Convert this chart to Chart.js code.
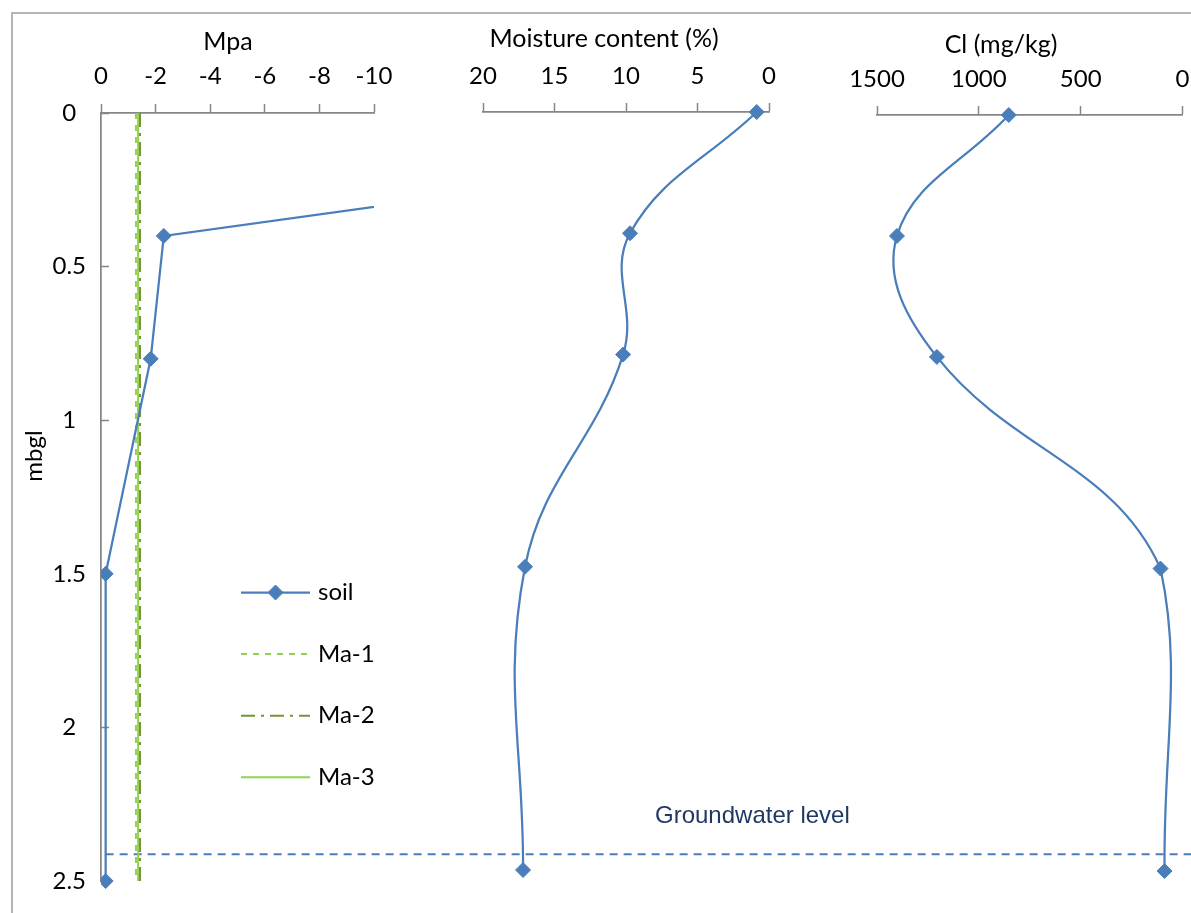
<!DOCTYPE html>
<html>
<head>
<meta charset="utf-8">
<title>Soil profile</title>
<script src="https://cdn.jsdelivr.net/npm/chart.js@4.4.1/dist/chart.umd.min.js"></script>
<style>
  html, body { margin: 0; padding: 0; background: #ffffff; }
  #wrap { position: relative; width: 1191px; height: 913px; overflow: hidden; background: #ffffff; }
  #frame { position: absolute; left: 11px; top: 12px; right: -20px; bottom: -20px;
           border-left: 2px solid #b4b4b4; border-top: 2px solid #b4b4b4; }
  canvas { position: absolute; left: 0; top: 0; }
</style>
</head>
<body>
<div id="wrap">
  <div id="frame"></div>
  <canvas id="cMpa" width="1191" height="913"></canvas>
  <canvas id="cMoist" width="1191" height="913"></canvas>
  <canvas id="cCl" width="1191" height="913"></canvas>
</div>
<script>
// ---- data ----
const depths = [0, 0.4, 0.8, 1.5, 2.5];            // mbgl
const soilMpa = [-35, -2.3, -1.82, -0.17, -0.17];   // suction, MPa
const moisture = [0.86, 9.72, 10.2, 17.06, 17.2];   // %
const chloride = [853, 1402, 1206, 108, 88];        // mg/kg

const maDepths = [0, 2.5];
const ma1 = [-1.28, -1.28];
const ma2 = [-1.43, -1.43];
const ma3 = [-1.36, -1.36];

const groundwaterDepth = [2.413, 2.413];
const groundwaterMpa = [-0.17, -60];

const depthTicks = [0, 0.5, 1, 1.5, 2, 2.5];
const mpaTicks = [0, -2, -4, -6, -8, -10];
const moistureTicks = [20, 15, 10, 5, 0];
const clTicks = [1500, 1000, 500, 0];

// ---- styles ----
const BLUE = '#4a7ebb';
const AXIS = '#868686';
const LIGHT_GREEN = '#92d050';
const OLIVE = '#77933c';
const FONT = 'Lato';

const pts = (xs, ys) => xs.map((v, i) => ({ x: v, y: ys[i] }));
const setTicks = arr => scale => { scale.ticks = arr.map(v => ({ value: v })); };
const noPad = s => { s.paddingTop = 0; s.paddingBottom = 0; s.paddingLeft = 0; s.paddingRight = 0; };

function topAxis(min, max, ticks, height, pad) {
  return {
    type: 'linear', position: 'top', min: min, max: max, reverse: true,
    afterBuildTicks: setTicks(ticks),
    afterFit: s => { s.height = height; noPad(s); },
    border: { display: true, color: AXIS, width: 1.75 },
    grid: { drawOnChartArea: false, drawTicks: true, tickLength: 9, tickColor: AXIS, tickWidth: 1.5 },
    ticks: { color: '#000', font: { family: FONT, size: 24 }, padding: pad,
             maxRotation: 0, autoSkip: false, callback: v => String(v) }
  };
}
function hiddenDepth() {
  return { type: 'linear', position: 'left', min: 0, max: 2.5, reverse: true, display: false,
           afterFit: s => { s.width = 0; noPad(s); } };
}

function textPlugin(items) {
  return {
    id: 'panelText',
    afterDraw(chart) {
      const ctx = chart.ctx;
      items.forEach(t => {
        ctx.save();
        ctx.font = t.font;
        ctx.fillStyle = t.color || '#000';
        ctx.textAlign = t.align || 'center';
        ctx.textBaseline = 'alphabetic';
        ctx.translate(t.x, t.y);
        if (t.rotate) ctx.rotate(t.rotate);
        ctx.fillText(t.text, 0, 0);
        ctx.restore();
      });
    }
  };
}

const legendPlugin = {
  id: 'seriesKey',
  afterDraw(chart) {
    const ctx = chart.ctx;
    for (let i = 0; i < 4; i++) {
      const ds = chart.data.datasets[i];
      const y = 592.5 + i * 61.6;
      ctx.save();
      ctx.strokeStyle = ds.borderColor;
      ctx.lineWidth = ds.borderWidth;
      ctx.setLineDash(ds.borderDash || []);
      ctx.beginPath();
      ctx.moveTo(241, y);
      ctx.lineTo(310, y);
      ctx.stroke();
      ctx.setLineDash([]);
      if (ds.pointRadius) {
        ctx.fillStyle = ds.pointBackgroundColor;
        ctx.strokeStyle = ds.pointBorderColor;
        ctx.lineWidth = 1;
        Chart.helpers.drawPoint(ctx, { pointStyle: 'rectRot', radius: ds.pointRadius, borderWidth: 1, rotation: 0 }, 275.5, y);
      }
      ctx.fillStyle = '#000';
      ctx.font = '24px ' + FONT;
      ctx.textAlign = 'left';
      ctx.textBaseline = 'middle';
      ctx.fillText(ds.label, 318, y);
      ctx.restore();
    }
  }
};

const base = {
  responsive: false, animation: false, events: [],
  plugins: { legend: { display: false }, tooltip: { enabled: false } }
};

const soilStyle = {
  showLine: true, borderColor: BLUE, borderWidth: 2.25, tension: 0,
  pointStyle: 'rectRot', pointRadius: 7.5, pointBackgroundColor: BLUE,
  pointBorderColor: BLUE, pointBorderWidth: 1
};

// ---- suction panel with depth axis ----
new Chart(document.getElementById('cMpa'), {
  type: 'scatter',
  data: {
    datasets: [
      Object.assign({ label: 'soil', data: pts(soilMpa, depths), clip: { left: 0, top: 0, right: 0, bottom: 10 } }, soilStyle),
      { label: 'Ma-1', data: pts(ma1, maDepths), showLine: true, borderColor: LIGHT_GREEN, borderWidth: 2, borderDash: [6, 6], pointRadius: 0 },
      { label: 'Ma-2', data: pts(ma2, maDepths), showLine: true, borderColor: OLIVE, borderWidth: 2, borderDash: [14, 6, 3, 6], pointRadius: 0 },
      { label: 'Ma-3', data: pts(ma3, maDepths), showLine: true, borderColor: LIGHT_GREEN, borderWidth: 2, pointRadius: 0 },
      { label: 'Groundwater level', data: pts(groundwaterMpa, groundwaterDepth), showLine: true, borderColor: BLUE,
        borderWidth: 2, borderDash: [8, 6], pointRadius: 0, clip: false }
    ]
  },
  options: Object.assign({}, base, {
    layout: { padding: { left: 0, top: 0, right: 1191 - 374, bottom: 913 - 881 } },
    scales: {
      x: topAxis(-10, 0, mpaTicks, 113, 13),
      y: {
        type: 'linear', position: 'left', min: 0, max: 2.5, reverse: true,
        afterBuildTicks: setTicks(depthTicks),
        afterFit: s => { s.width = 101; noPad(s); },
        border: { display: true, color: AXIS, width: 1.75 },
        grid: { drawOnChartArea: false, drawTicks: true, tickLength: -8, tickColor: AXIS, tickWidth: 1.5 },
        ticks: { color: '#000', font: { family: FONT, size: 24 }, padding: 23, crossAlign: 'center',
                 autoSkip: false, callback: v => String(v) }
      }
    }
  }),
  plugins: [legendPlugin, textPlugin([
    { text: 'Mpa', x: 228, y: 50, font: '25px ' + FONT },
    { text: 'mbgl', x: 42, y: 456, font: '24px ' + FONT, rotate: -Math.PI / 2 },
    { text: 'Groundwater level', x: 655, y: 823, font: '24px "Liberation Sans"', color: '#1f3864', align: 'left' }
  ])]
});

// ---- moisture panel ----
new Chart(document.getElementById('cMoist'), {
  type: 'scatter',
  data: { datasets: [Object.assign({ label: 'Moisture content', data: pts(moisture, depths), clip: 10 }, soilStyle, { tension: 0.4 })] },
  options: Object.assign({}, base, {
    layout: { padding: { left: 483, top: 0, right: 1191 - 769, bottom: 913 - 870 } },
    scales: { x: topAxis(0, 20, moistureTicks, 112, 12), y: hiddenDepth() }
  }),
  plugins: [textPlugin([{ text: 'Moisture content (%)', x: 604, y: 47, font: '25px ' + FONT }])]
});

// ---- chloride panel ----
new Chart(document.getElementById('cCl'), {
  type: 'scatter',
  data: { datasets: [Object.assign({ label: 'Cl', data: pts(chloride, depths), clip: 10 }, soilStyle, { tension: 0.4 })] },
  options: Object.assign({}, base, {
    layout: { padding: { left: 877, top: 0, right: 1191 - 1183, bottom: 913 - 871 } },
    scales: { x: topAxis(0, 1500, clTicks, 115, 12), y: hiddenDepth() }
  }),
  plugins: [textPlugin([{ text: 'Cl (mg/kg)', x: 1001, y: 53, font: '25px ' + FONT }])]
});
</script>
</body>
</html>
